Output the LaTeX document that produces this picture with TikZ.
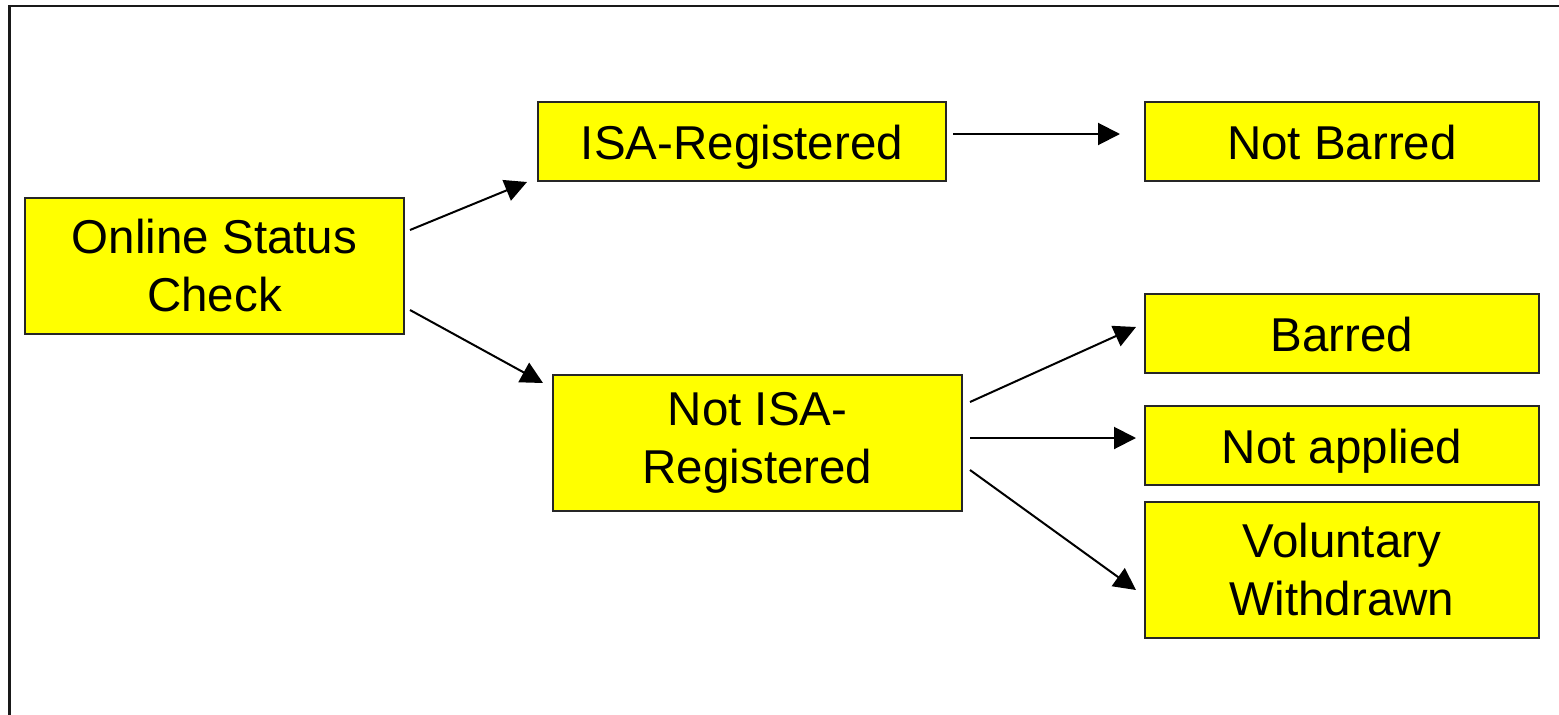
\documentclass[tikz,border=0pt]{standalone}
\usepackage{fontspec}
\setmainfont{Liberation Sans}
\usetikzlibrary{arrows.meta}
\definecolor{boxyellow}{RGB}{255,255,0}
\begin{document}
\begin{tikzpicture}[x=1pt,y=-1pt,
  box/.style={draw=black!85, line width=2pt, fill=boxyellow, align=center, inner sep=0pt,
    font=\fontsize{47.5}{58}\selectfont},
  oneline/.style={text height=35pt, text depth=0pt},
  arr/.style={line width=2pt, -{Triangle[length=22pt,width=22pt]}}]
\useasboundingbox (0,0) rectangle (1559,715);
\draw[line width=2.2pt, black!90] (9.5,720) -- (9.5,6) -- (1565,6);
\node[box, minimum width=379pt, minimum height=136pt] (on) at (214.5,266) {Online Status\\Check};
\node[box, oneline, minimum width=408pt, minimum height=79pt] (isa) at (742,141.5) {ISA-Registered};
\node[box, oneline, minimum width=394pt, minimum height=79pt] (nb) at (1342,141.5) {Not Barred};
\node[box, minimum width=409pt, minimum height=136pt] (nisa) at (757.5,443) {Not ISA-\\Registered};
\node[box, oneline, minimum width=394pt, minimum height=79pt] (bar) at (1342,333.5) {Barred};
\node[box, oneline, minimum width=394pt, minimum height=79pt] (na) at (1342,445.5) {Not applied};
\node[box, minimum width=394pt, minimum height=136pt] (vw) at (1342,570) {Voluntary\\Withdrawn};
\coordinate (a1s) at (410,230); \coordinate (a1e) at (527,182);
\coordinate (a2s) at (410,310); \coordinate (a2e) at (543,383);
\coordinate (a3s) at (953,134); \coordinate (a3e) at (1120,134);
\coordinate (a4s) at (970,402); \coordinate (a4e) at (1136,327);
\coordinate (a5s) at (970,438); \coordinate (a5e) at (1136,438);
\coordinate (a6s) at (970,470); \coordinate (a6e) at (1136,590);
\draw[arr] (a1s) -- (a1e);
\draw[arr] (a2s) -- (a2e);
\draw[arr] (a3s) -- (a3e);
\draw[arr] (a4s) -- (a4e);
\draw[arr] (a5s) -- (a5e);
\draw[arr] (a6s) -- (a6e);
\end{tikzpicture}
\end{document}
